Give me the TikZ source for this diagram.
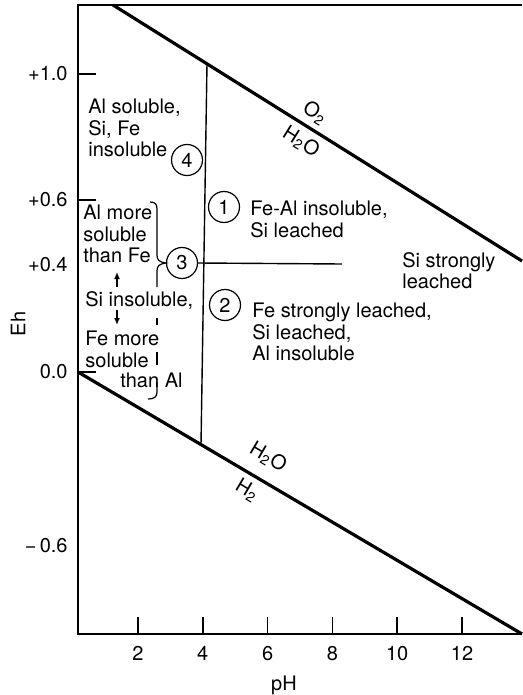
\documentclass[tikz,border=0pt]{standalone}
\usepackage{fontspec}
\setmainfont{TeX Gyre Heros}
\usetikzlibrary{arrows.meta}

\begin{document}
\begin{tikzpicture}[x=0.5pt,y=-0.5pt,
    font=\fontsize{10}{10.8}\selectfont,
    txt/.style={anchor=north west,inner sep=0pt,align=left},
    numcirc/.style={draw,circle,line width=0.6pt,inner sep=0pt,minimum size=15.5pt},
    water/.style={line width=1.6pt},
    wlbl/.style={inner sep=0pt},
    bound/.style={line width=0.7pt},
    smallarr/.style={line width=0.7pt,-{Latex[length=3.5pt,width=3pt]}}]
  \useasboundingbox (0,0) rectangle (523,695);
  % frame, ticks and axis labels
  \draw[line width=0.9pt] (522,5) -- (78,5) -- (78,634) -- (522,634);
  \foreach \p in {2,4,...,12}{
    \draw[line width=0.8pt] ({73.2+32.4*\p},634) -- ++(0,-17);
    \node[anchor=base] (ph\p) at ({73.2+32.4*\p},660) {\p};
  }
  \foreach \yy in {74,200,372}
    \draw[line width=0.8pt] (78,\yy) -- ++(18,0);
  \node[anchor=east,inner sep=0pt] (eh10) at (68,74) {+1.0};
  \node[anchor=east,inner sep=0pt] (eh06) at (68,200) {+0.6};
  \node[anchor=east,inner sep=0pt] (eh04) at (68,265) {+0.4};
  \node[anchor=east,inner sep=0pt] (eh00) at (68,372) {0.0};
  \node[anchor=east,inner sep=0pt] (ehm06) at (68,546) {−\,0.6};
  \node[rotate=90] (ehlbl) at (18,324) {Eh};
  \node (phlbl) at (284,685) {pH};

  % stability limits of water
  \coordinate (o2a) at (113,5);
  \coordinate (o2b) at (522,261);
  \coordinate (h2a) at (78,372);
  \coordinate (h2b) at (522,634);
  \draw[water] (o2a) -- (o2b);
  \draw[water] (h2a) -- (h2b);
  \node[wlbl,rotate=-32] (o2lbl) at (315,113) {O\textsubscript{2}};
  \node[wlbl,rotate=-32] (h2olbl) at (301,142) {H\textsubscript{2}O};
  \node[wlbl,rotate=-30.5] (h2olow) at (268,457) {H\textsubscript{2}O};
  \node[wlbl,rotate=-30.5] (h2lbl) at (247,490) {H\textsubscript{2}};

  % field boundaries
  \coordinate (vtop) at (207,63.8);
  \coordinate (vbot) at (201,444.6);
  \coordinate (hend) at (342,264);
  \draw[bound] (vtop) -- (vbot);
  \node[numcirc] (n4) at (187,160) {4};
  \node[numcirc] (n1) at (224,207) {1};
  \node[numcirc] (n3) at (182,263) {3};
  \node[numcirc] (n2) at (225,305) {2};
  \draw[bound] (n3.east) -- (hend);

  % field texts
  \node[txt] (reg4) at (88,98.7) {Al soluble,\\Si, Fe\\insoluble};
  \node[txt] (reg1) at (250,200.7) {Fe-Al insoluble,\\Si leached};
  \node[txt] (reg2) at (252,302.7) {Fe strongly leached,\\Si leached,\\Al insoluble};
  \node[txt] (regsi) at (402,251.7) {Si strongly\\leached};
  \node[txt] (reg3a) at (83,204.7) {Al more\\soluble\\than Fe};
  \node[txt] (reg3b) at (85,290.7) {Si insoluble,};
  \node[txt] (reg3c) at (85,330.7) {Fe more\\soluble};
  \node[txt] (reg3d) at (120,372.7) {than Al};
  \coordinate (upfrom) at (117,287);
  \coordinate (upto) at (117,272);
  \coordinate (dnfrom) at (117,310);
  \coordinate (dnto) at (117,325);
  \draw[smallarr] (upfrom) -- (upto);
  \draw[smallarr] (dnfrom) -- (dnto);

  % brace towards field 3
  \draw[line width=0.6pt] (150,202) .. controls (155,202) and (157,204) .. (157,209)
    -- (157,255) .. controls (157,260) and (159,262) .. (n3.west)
    .. controls (159,264) and (157,266) .. (157,271) -- (157,287);
  \draw[line width=0.6pt] (157,318) -- (157,325);
  \draw[line width=0.6pt] (157,352) -- (157,365);
  \draw[line width=0.6pt] (157,382) -- (157,392) .. controls (157,397) and (154,399) .. (148,399);
\end{tikzpicture}
\end{document}
